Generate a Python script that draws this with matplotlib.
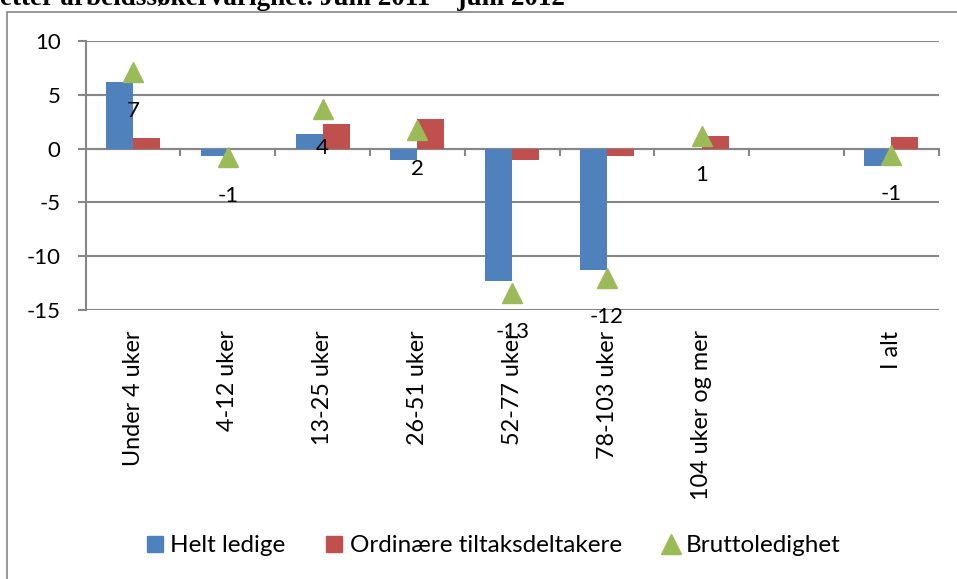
import matplotlib
matplotlib.use("Agg")
import matplotlib.pyplot as plt
import matplotlib.patches as mpatches
from matplotlib.lines import Line2D
import numpy as np

plt.rcParams['font.family'] = ['Lato', 'DejaVu Sans']
plt.rcParams['axes.unicode_minus'] = False

categories = ['Under 4 uker', '4-12 uker', '13-25 uker', '26-51 uker', '52-77 uker',
              '78-103 uker', '104 uker og mer', '', 'I alt']
helt_ledige = [6.2, -0.7, 1.4, -1.1, -12.3, -11.3, 0.0, np.nan, -1.6]
tiltak = [0.95, -0.05, 2.25, 2.75, -1.05, -0.65, 1.15, np.nan, 1.1]
brutto = [7.1, -0.75, 3.65, 1.75, -13.4, -12.05, 1.15, np.nan, -0.6]

blue = '#4F81BD'
red = '#C0504D'
green = '#9BBB59'
grey = '#868686'
fs = 16

fig = plt.figure(figsize=(9.57, 5.79), dpi=100)
ax = fig.add_axes([0.0895, 0.4646, 0.8915, 0.4646])

x = np.arange(len(categories))
w = 0.285
ax.bar(x - w/2, helt_ledige, w, color=blue, zorder=3)
ax.bar(x + w/2, tiltak, w, color=red, zorder=3)
ax.plot(x, brutto, linestyle='none', marker='^', markersize=14, color=green, zorder=4)

for xi, v in zip(x, brutto):
    if np.isnan(v):
        continue
    ax.annotate(f"{v:.0f}", (xi, v), xytext=(0, -28), textcoords='offset points',
                ha='center', va='center', fontsize=fs, zorder=5)

ax.set_xlim(-0.5, len(categories) - 0.5)
ax.set_ylim(-15, 10)
ax.set_yticks([-15, -10, -5, 0, 5, 10])
ax.tick_params(axis='y', labelsize=fs, length=6, color=grey, width=1.5, pad=12)
ax.yaxis.grid(True, color=grey, linewidth=1.5, zorder=0)

# x axis at zero, with ticks between categories
for s in ['top', 'right', 'bottom']:
    ax.spines[s].set_visible(False)
ax.spines['left'].set_color(grey)
ax.spines['left'].set_linewidth(1.5)
ax.axhline(0, color=grey, linewidth=1.5, zorder=2)
for b in np.arange(0.5, len(categories) - 0.5 + 1e-9, 1.0):
    ax.plot([b, b], [0, -0.6], color=grey, linewidth=1.5, zorder=2, clip_on=False)
ax.set_xticks([])
for xi, lab in zip(x, categories):
    ax.text(xi, -16.9, lab, rotation=90, ha='center', va='top', fontsize=16.8)

# legend
handles = [mpatches.Patch(color=blue, label='Helt ledige'),
           mpatches.Patch(color=red, label='Ordinære tiltaksdeltakere'),
           Line2D([], [], linestyle='none', marker='^', markersize=14, color=green,
                  label='Bruttoledighet')]
fig.legend(handles=handles, loc='center', bbox_to_anchor=(0.516, 0.057), ncol=3,
           frameon=False, fontsize=17.5, handlelength=0.65, handleheight=0.65,
           handletextpad=0.3, columnspacing=1.7)

# outer chart frame, partly off the image
frame = mpatches.Rectangle((7/957, -0.1), 1.1, 1.1 - 12/579, transform=fig.transFigure,
                           fill=False, edgecolor=grey, linewidth=1.2)
fig.add_artist(frame)

fig.text(0.0, 1 - 5/579, 'etter arbeidssøkervarighet. Juni 2011 – juni 2012',
         family='Liberation Serif', weight='bold', fontsize=19.5, ha='left', va='baseline')

fig.savefig('out.png', dpi=100)
